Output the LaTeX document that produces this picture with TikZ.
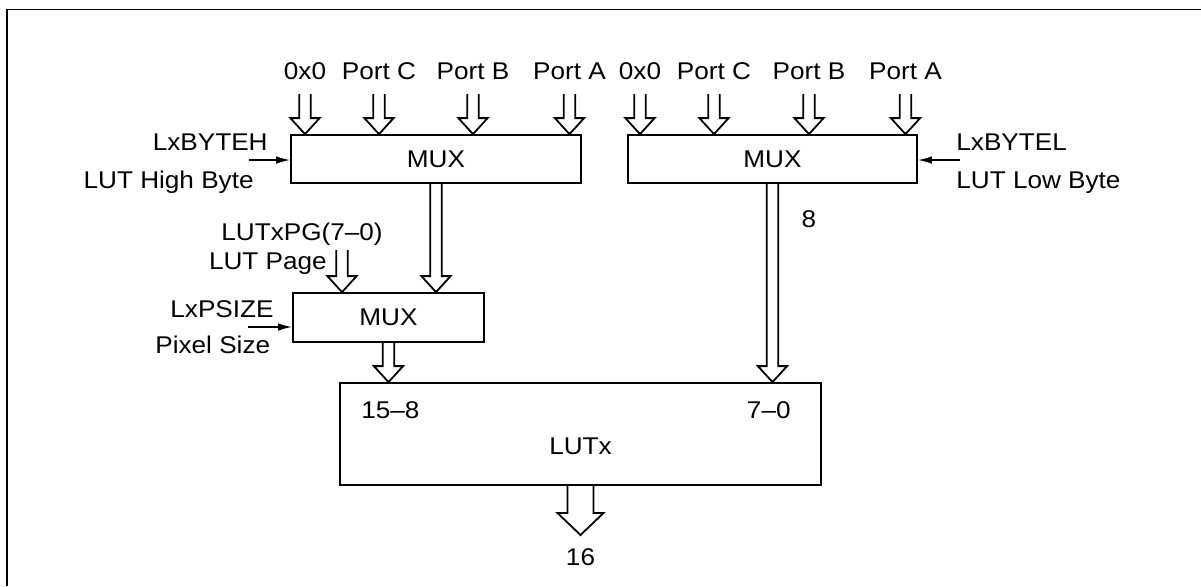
\documentclass[tikz,border=0pt]{standalone}
\usepackage{fontspec}
\setmainfont{Liberation Sans}[FakeStretch=1.08]
\usetikzlibrary{arrows.meta,calc}

% Hollow bus arrow: #1 start, #2 tip, #3 shaft half width, #4 head half width, #5 head length
\newcommand\busarrow[5]{%
  \draw[busline] let \p1=#1, \p2=#2 in
    (\x2-#3,\y1) -- (\x2-#3,\y2+#5) -- (\x2-#4,\y2+#5) -- (\x2,\y2)
    -- (\x2+#4,\y2+#5) -- (\x2+#3,\y2+#5) -- (\x2+#3,\y1);}
\newcommand\smallbus[2]{\busarrow{#1}{#2}{2.9pt}{7.3pt}{8pt}}

\begin{document}
\begin{tikzpicture}[x=0.5pt,y=-0.5pt,
  every node/.style={font=\fontsize{12.1}{14}\selectfont},
  txt/.style={inner sep=0pt},
  blk/.style={draw,line width=0.9pt,inner sep=0pt},
  busline/.style={line width=0.9pt,line join=miter},
  ctrl/.style={line width=0.8pt,-{Latex[length=7pt,width=3.8pt]}},
  frame/.style={line width=0.9pt}]
\useasboundingbox (0,0) rectangle (1201,586);
\draw[frame] (7,586) -- (7,9.5) -- (1201,9.5);

% blocks
\node[blk,minimum width=145pt,minimum height=24pt] (muxh) at (436,159) {MUX};
\node[blk,minimum width=144.5pt,minimum height=24pt] (muxl) at (772.5,159) {MUX};
\node[blk,minimum width=95.5pt,minimum height=24.5pt] (muxp) at (388.5,317.5) {MUX};
\node[blk,minimum width=240.5pt,minimum height=51pt] (lut) at (580.5,434) {};
\node[txt] (lutname) at ($(lut.center)+(0,12)$) {LUTx};
\node[txt,anchor=base west] (hibits) at (361,418) {15--8};
\node[txt,anchor=base east] (lobits) at (791,418) {7--0};

% input ports, high byte multiplexer
\foreach \k/\xx/\t in {h0/305/0x0,hc/379/Port C,hb/473/Port B,ha/569.5/Port A}{
  \node[txt,anchor=base] (lab\k) at (\xx,79) {\t};
  \coordinate (in\k) at (\xx,94);
  \edef\tmp{\noexpand\smallbus{(in\k)}{(in\k\space|- muxh.north)}}\tmp
}
% input ports, low byte multiplexer
\foreach \k/\xx/\t in {l0/640/0x0,lc/714/Port C,lb/809/Port B,la/905.5/Port A}{
  \node[txt,anchor=base] (lab\k) at (\xx,79) {\t};
  \coordinate (in\k) at (\xx,94);
  \edef\tmp{\noexpand\smallbus{(in\k)}{(in\k\space|- muxl.north)}}\tmp
}

% select inputs
\node[txt,anchor=base east] (bh) at (268,150) {LxBYTEH};
\node[txt,anchor=base east] (bhd) at (254,188) {LUT High Byte};
\coordinate (bhs) at (249,160);
\draw[ctrl] (bhs) -- (bhs -| muxh.west);

\node[txt,anchor=base west] (bl) at (956,150) {LxBYTEL};
\node[txt,anchor=base west] (bld) at (956,188) {LUT Low Byte};
\coordinate (bls) at (960,160);
\draw[ctrl] (bls) -- (bls -| muxl.east);

\node[txt,anchor=base west] (ps) at (170,317) {LxPSIZE};
\node[txt,anchor=base west] (psd) at (155,353) {Pixel Size};
\coordinate (pss) at (248,327);
\draw[ctrl] (pss) -- (pss -| muxp.west);

% page register
\node[txt,anchor=base west] (pg) at (221,240) {LUTxPG(7--0)};
\node[txt,anchor=base west] (pgd) at (208.6,269) {LUT Page};
\coordinate (pgs) at (342,250);
\smallbus{(pgs)}{(pgs |- muxp.north)}

% internal buses
\smallbus{(muxh.south)}{(muxh.south |- muxp.north)}
\smallbus{(muxp.south)}{(muxp.south |- lut.north)}
\smallbus{(muxl.south)}{(muxl.south |- lut.north)}
\node[txt] (w8) at (809,219) {8};

% output
\coordinate (outtip) at (580.5,535);
\busarrow{(lut.south)}{(outtip)}{6.5pt}{11.5pt}{11pt}
\node[txt] (w16) at (580.5,557) {16};
\end{tikzpicture}
\end{document}
